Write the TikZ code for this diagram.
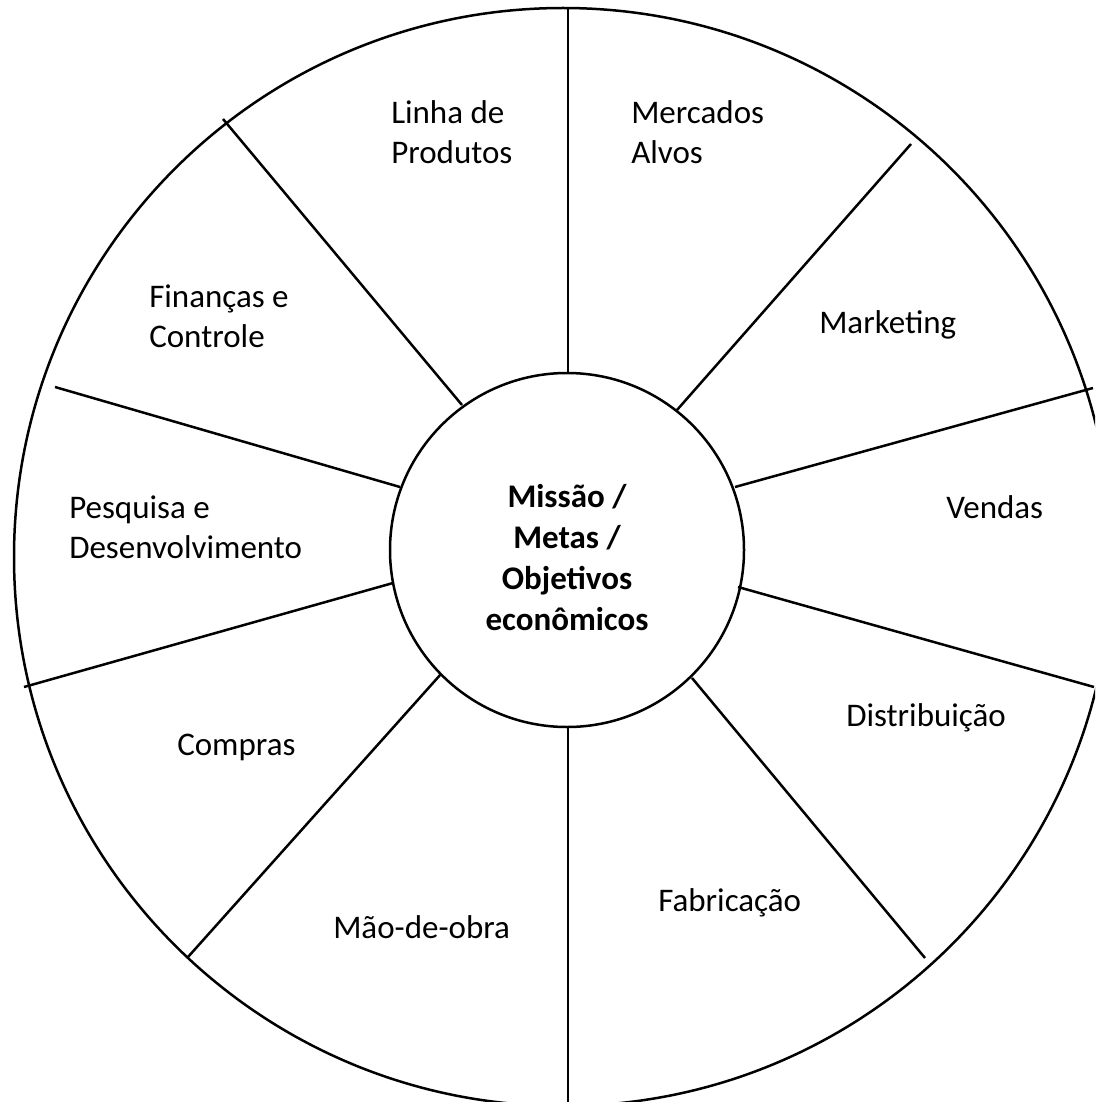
\documentclass[tikz,border=0pt]{standalone}
\usepackage{fontspec}
\setmainfont{Carlito}
\begin{document}
\begin{tikzpicture}[x=1pt,y=-1pt,line width=2.5pt,
  lbl/.style={anchor=base west,inner sep=0pt,align=left,font=\fontsize{33}{40}\selectfont},
  hubstyle/.style={circle,draw,line width=2.5pt,minimum size=354pt,inner sep=0pt},
  hubtext/.style={inner sep=0pt,align=center,font=\fontsize{33}{41}\selectfont\bfseries}]
\useasboundingbox (0,0) rectangle (1095,1102);
\clip (0,0) rectangle (1095,1102);
% outer wheel
\node[circle,draw,line width=2.5pt,minimum size=1098pt,inner sep=0pt] (wheel) at (563,557) {};
% hub
\node[hubstyle] (hub) at (567,550) {};
\node[hubtext] (goals) at (567,558) {Missão /\\Metas /\\Objetivos\\econômicos};
% spoke ends
\coordinate (i1) at (568,373);  \coordinate (o1) at (568,8);
\coordinate (i2) at (462,405);  \coordinate (o2) at (223,119);
\coordinate (i3) at (400,487);  \coordinate (o3) at (55,387);
\coordinate (i4) at (393,583);  \coordinate (o4) at (24,687);
\coordinate (i5) at (441,674);  \coordinate (o5) at (188,957);
\coordinate (i6) at (568,728);  \coordinate (o6) at (568,1106);
\coordinate (i7) at (692,678);  \coordinate (o7) at (925,958);
\coordinate (i8) at (738,587);  \coordinate (o8) at (1094,687);
\coordinate (i9) at (735,487);  \coordinate (o9) at (1093,388);
\coordinate (i10) at (677,410); \coordinate (o10) at (911,144);
\foreach \k in {1,...,10} \draw (i\k) -- (o\k);
% labels (anchor = baseline of last line)
\node[lbl] (linha) at (390,164) {Linha de\\Produtos};
\node[lbl] (mercados) at (630,164) {Mercados\\Alvos};
\node[lbl] (marketing) at (818,333) {Marketing};
\node[lbl] (vendas) at (945,518) {Vendas};
\node[lbl] (distrib) at (845,726) {Distribuição};
\node[lbl] (fabric) at (657,911) {Fabricação};
\node[lbl] (maoobra) at (332,938) {Mão-de-obra};
\node[lbl] (compras) at (176,755) {Compras};
\node[lbl] (pesquisa) at (68,558) {Pesquisa e\\Desenvolvimento};
\node[lbl] (financas) at (148,347) {Finanças e\\Controle};
\end{tikzpicture}
\end{document}
